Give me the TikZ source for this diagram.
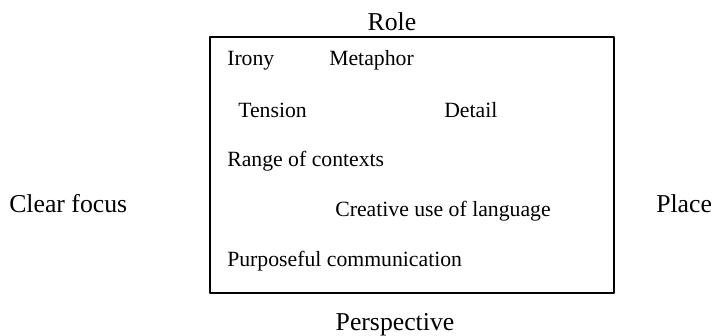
\documentclass[tikz,border=0pt]{standalone}
\usepackage{fontspec}
\setmainfont{Liberation Serif}
\usepackage{tikz}
\usetikzlibrary{positioning}

\begin{document}
\begin{tikzpicture}[line cap=round,line join=round,x=0.75pt,y=-0.75pt,
  term/.style={font=\fontsize{16.3}{19}\selectfont,inner sep=0pt,anchor=base west},
  side/.style={font=\fontsize{19.3}{23}\selectfont,inner sep=0pt}]
\useasboundingbox (0,0) rectangle (715,336);
\draw [line width=1.3pt] (210,37) rectangle (614,293);
\node [side,anchor=base] (role) at (392,30) {Role};
\node [side,anchor=base] (persp) at (395,330) {Perspective};
\node [side,anchor=base west] (focus) at (9,212) {Clear focus};
\node [side,anchor=base west] (place) at (656,212) {Place};
\node [term] (irony) at (227,65) {Irony};
\node [term] (metaphor) at (329,65) {Metaphor};
\node [term] (tension) at (238,117) {Tension};
\node [term] (detail) at (444,117) {Detail};
\node [term] (range) at (227,166) {Range of contexts};
\node [term] (creative) at (335,216) {Creative use of language};
\node [term] (purpose) at (227,266) {Purposeful communication};
\end{tikzpicture}
\end{document}
